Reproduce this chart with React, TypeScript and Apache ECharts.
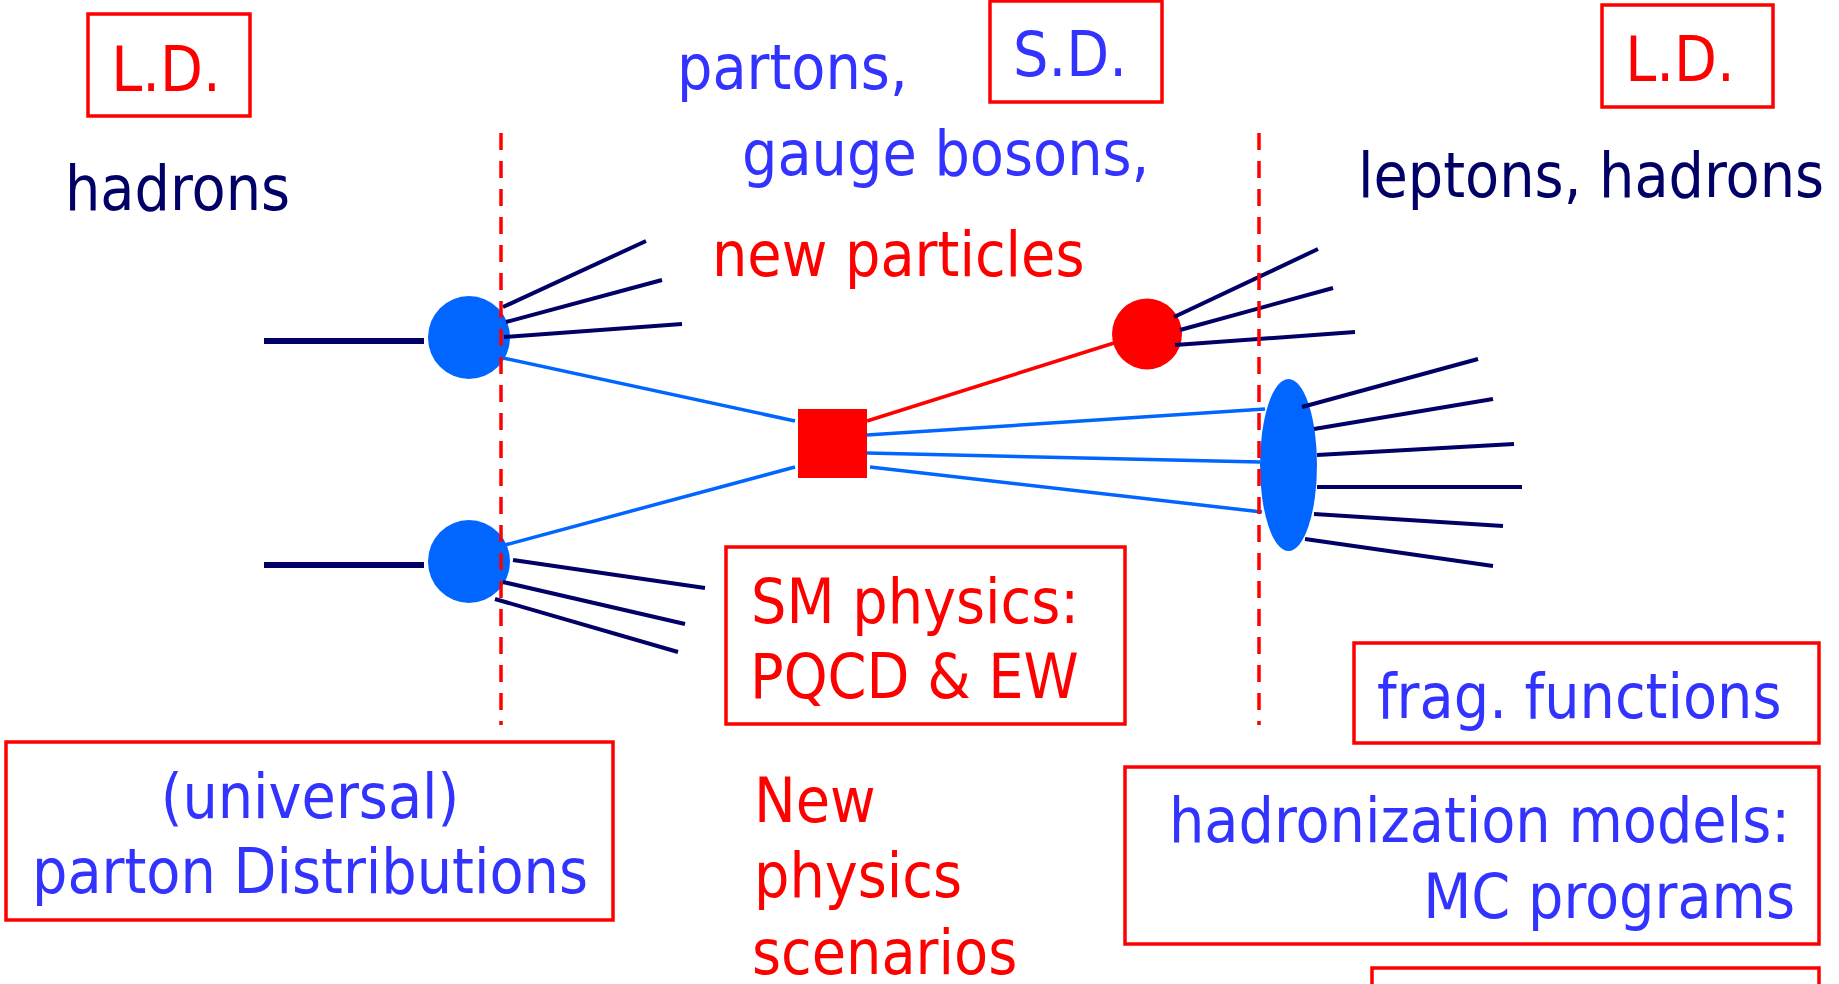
import React, { useEffect, useRef } from "react";
import * as echarts from "echarts";

// ---- diagram data (pixel space 1839 x 984) ----
const W = 1839;
const H = 984;

const incomingLines = [
  [[264, 341], [424, 341]],
  [[264, 565], [424, 565]],
];

const fanLines = [
  [[503, 307], [646, 241]],
  [[506, 322], [662, 280]],
  [[504, 337], [682, 324]],
  [[513, 560], [705, 588]],
  [[503, 582], [685, 624]],
  [[495, 599], [678, 652]],
  [[1174, 317], [1318, 249]],
  [[1180, 330], [1333, 288]],
  [[1175, 345], [1355, 332]],
  [[1302, 407], [1478, 359]],
  [[1314, 429], [1493, 399]],
  [[1317, 455], [1514, 444]],
  [[1317, 487], [1522, 487]],
  [[1314, 514], [1503, 526]],
  [[1305, 539], [1493, 566]],
];

const blueLines = [
  [[503, 358], [795, 421]],
  [[505, 545], [795, 467]],
  [[867, 435], [1265, 409]],
  [[867, 453], [1260, 462]],
  [[870, 467], [1262, 512]],
];

const redLines = [[[867, 421], [1114, 343]]];

const dashedLines = [
  [[501, 133], [501, 725]],
  [[1259, 133], [1259, 725]],
];

const nodeX = [469, 469, 1147, 1288.5, 832.5];
const nodeY = [337.5, 561.5, 334, 465, 443.5];
const nodeW = [82, 82, 70, 57, 69];
const nodeH = [83, 83, 71, 172, 69];
const nodeShape = ["round", "round", "round", "round", "square"];
const nodeColor = ["#0066ff", "#0066ff", "#ff0000", "#0066ff", "#ff0000"];

const boxX0 = [88, 990, 1602, 726, 6, 1354, 1125, 1372];
const boxY0 = [14, 1, 5, 547, 742, 643, 767, 968];
const boxX1 = [250, 1162, 1773, 1125, 613, 1819, 1819, 1819];
const boxY1 = [116, 102, 107, 724, 920, 743, 944, 1010];

const labelTexts = [
  "L.D.",
  "hadrons",
  "partons,",
  "S.D.",
  "gauge bosons,",
  "new particles",
  "L.D.",
  "leptons, hadrons",
  "SM physics:",
  "PQCD & EW",
  "(universal)",
  "parton Distributions",
  "New",
  "physics",
  "scenarios",
  "frag. functions",
  "hadronization models:",
  "MC programs",
];
const labelX = [166, 65, 677, 1070, 742, 712, 1680, 1358, 751, 750, 310, 310, 754, 754, 752, 1377, 1790, 1795];
const labelBaseline = [91, 210, 89, 76, 175, 276, 81, 197, 623, 698, 818, 893, 822, 897, 974, 718, 842, 918];
const labelAlign = [
  "center", "left", "left", "center", "left", "left", "center", "left",
  "left", "left", "center", "center", "left", "left", "left", "left", "right", "right",
];
const RED = "#ff0000";
const BLUE = "#3333ff";
const NAVY = "#000066";
const labelColor = [
  RED, NAVY, BLUE, BLUE, BLUE, RED, RED, NAVY,
  RED, RED, BLUE, BLUE, RED, RED, RED, BLUE, BLUE, BLUE,
];

const FONT = '"DejaVu Sans Condensed", "DejaVu Sans", sans-serif';
const FS = 62;
const ROUND = "path://M0,-1 A1,1 0 1,1 0,1 A1,1 0 1,1 0,-1 Z";

function linesSeries(segs: number[][][], color: string, width: number, z: number, dashed = false) {
  return {
    type: "lines",
    coordinateSystem: "cartesian2d",
    silent: true,
    z,
    lineStyle: { color, width, opacity: 1, type: dashed ? [17, 11] : "solid", cap: "butt" },
    data: segs.map((s) => ({ coords: s })),
  };
}

export default function App() {
  const ref = useRef<HTMLDivElement>(null);
  useEffect(() => {
    if (!ref.current) return;
    const chart = echarts.init(ref.current, null, { renderer: "svg" });
    chart.setOption({
      animation: false,
      backgroundColor: "#ffffff",
      grid: { left: 0, right: 0, top: 0, bottom: 0 },
      xAxis: { type: "value", min: 0, max: W, show: false },
      yAxis: { type: "value", min: 0, max: H, inverse: true, show: false },
      series: [
        {
          type: "custom",
          coordinateSystem: "cartesian2d",
          silent: true,
          z: 1,
          data: boxX0.map((x, i) => [x, boxY0[i], boxX1[i], boxY1[i]]),
          encode: { x: [0, 2], y: [1, 3] },
          renderItem: (params: any, api: any) => {
            const a = api.coord([api.value(0), api.value(1)]);
            const b = api.coord([api.value(2), api.value(3)]);
            return {
              type: "rect",
              shape: { x: a[0], y: a[1], width: b[0] - a[0], height: b[1] - a[1] },
              style: { fill: "none", stroke: RED, lineWidth: 3.5 },
            };
          },
        },
        linesSeries(blueLines, "#0066ff", 3.5, 2),
        linesSeries(redLines, "#ff0000", 3.5, 2),
        {
          type: "scatter",
          silent: true,
          z: 3,
          data: nodeX.map((x, i) => ({
            value: [x, nodeY[i]],
            symbol: nodeShape[i] === "round" ? ROUND : "rect",
            symbolSize: [nodeW[i], nodeH[i]],
            itemStyle: { color: nodeColor[i], opacity: 1 },
          })),
        },
        linesSeries(incomingLines, NAVY, 6, 4),
        linesSeries(fanLines, NAVY, 4, 4),
        linesSeries(dashedLines, RED, 3.5, 5, true),
        {
          type: "custom",
          coordinateSystem: "cartesian2d",
          silent: true,
          z: 6,
          data: labelX.map((x, i) => [x, labelBaseline[i]]),
          encode: { x: 0, y: 1 },
          renderItem: (params: any, api: any) => {
            const i = params.dataIndex;
            const p = api.coord([api.value(0), api.value(1)]);
            return {
              type: "text",
              x: p[0],
              y: p[1] - FS * 0.346,
              style: {
                text: labelTexts[i],
                fill: labelColor[i],
                fontSize: FS,
                fontFamily: FONT,
                align: labelAlign[i],
                verticalAlign: "middle",
              },
            };
          },
        },
      ],
    });
    return () => chart.dispose();
  }, []);
  return (
    <div
      ref={ref}
      style={{ position: "fixed", left: 0, top: 0, width: W + "px", height: H + "px", background: "#fff" }}
    />
  );
}
